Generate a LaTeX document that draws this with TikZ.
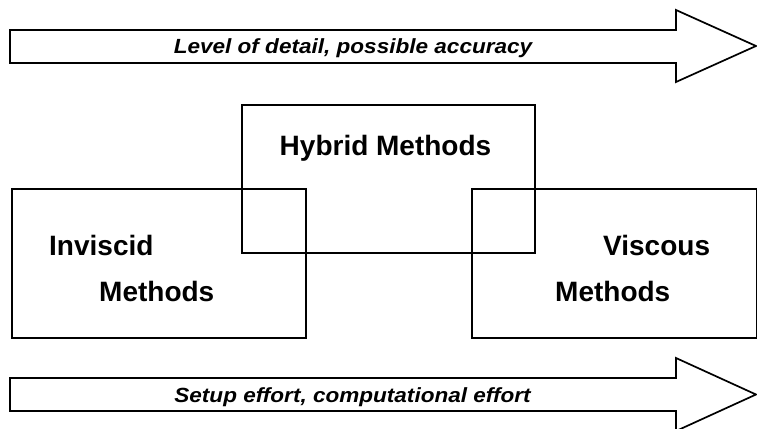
\documentclass[tikz,border=0pt]{standalone}
\usepackage{fontspec}
\setmainfont{Liberation Sans}
\begin{document}
\begin{tikzpicture}[x=1pt,y=-1pt,
  outline/.style={draw=black,line width=1.7pt,line join=miter},
  boxnode/.style={outline,rectangle,inner sep=0pt,anchor=north west},
  big/.style={font=\bfseries\fontsize{28}{34}\selectfont,inner sep=0pt,anchor=base west},
  small/.style={font=\bfseries\itshape\fontsize{20.5}{24}\selectfont,inner sep=0pt,anchor=base,xscale=1.1}]
\useasboundingbox (0,0) rectangle (757,428);
% arrows
\draw[outline] (10,30) -- (676,30) -- (676,10) -- (756,46) -- (676,82) -- (676,63) -- (10,63) -- cycle;
\draw[outline] (10,378) -- (676,378) -- (676,358) -- (756,394.5) -- (676,431) -- (676,411) -- (10,411) -- cycle;
\node[small] (top) at (353,53) {Level of detail, possible accuracy};
\node[small] (bot) at (352.5,402) {Setup effort, computational effort};
% boxes
\node[boxnode,minimum width=293pt,minimum height=148pt] (hyb) at (241,104) {};
\node[boxnode,minimum width=294pt,minimum height=149pt] (inv) at (11,188) {};
\node[boxnode,minimum width=285pt,minimum height=149pt] (vis) at (471,188) {};
% labels
\node[big,anchor=base] (hybt) at (385.5,155) {Hybrid Methods};
\node[big] (invt1) at (49,255) {Inviscid};
\node[big] (invt2) at (99,301) {Methods};
\node[big] (vist1) at (603,255) {Viscous};
\node[big] (vist2) at (555,301) {Methods};
\end{tikzpicture}
\end{document}
